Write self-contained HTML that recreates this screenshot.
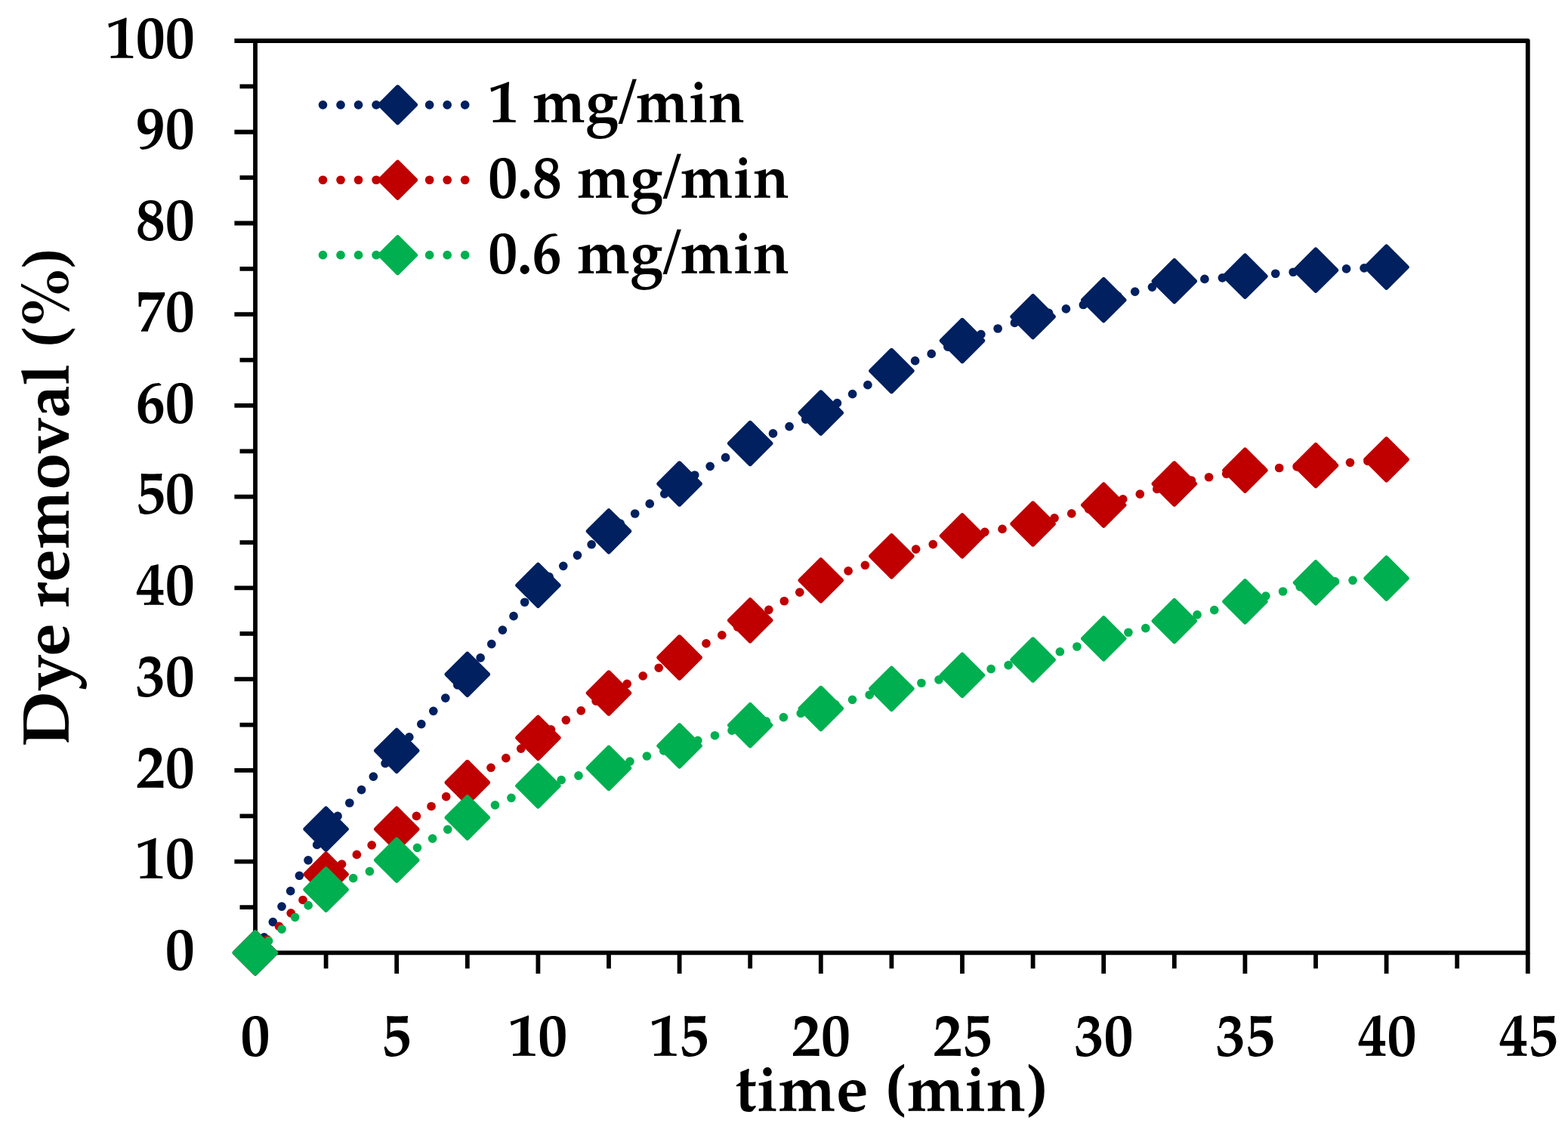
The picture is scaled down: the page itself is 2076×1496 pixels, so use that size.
<!DOCTYPE html><html><head><meta charset="utf-8"><title>Dye removal vs time</title><style>html,body{margin:0;padding:0;background:#fff;overflow:hidden;}svg{display:block;}text{font-family:'TeX Gyre Pagella','Liberation Serif',serif;font-weight:bold;fill:#000;}</style></head><body>
<svg width="2076" height="1496" viewBox="0 0 2076 1496">
<rect width="2076" height="1496" fill="#fff"/>
<path d="M310.40 1261.40H338.00M310.40 1140.66H338.00M310.40 1019.92H338.00M310.40 899.18H338.00M310.40 778.44H338.00M310.40 657.70H338.00M310.40 536.96H338.00M310.40 416.22H338.00M310.40 295.48H338.00M310.40 174.74H338.00M310.40 54.00H338.00M317.50 1201.03H338.00M317.50 1080.29H338.00M317.50 959.55H338.00M317.50 838.81H338.00M317.50 718.07H338.00M317.50 597.33H338.00M317.50 476.59H338.00M317.50 355.85H338.00M317.50 235.11H338.00M317.50 114.37H338.00M338.00 1261.40V1289.00M525.20 1261.40V1289.00M712.40 1261.40V1289.00M899.60 1261.40V1289.00M1086.80 1261.40V1289.00M1274.00 1261.40V1289.00M1461.20 1261.40V1289.00M1648.40 1261.40V1289.00M1835.60 1261.40V1289.00M2022.80 1261.40V1289.00M431.60 1261.40V1282.20M618.80 1261.40V1282.20M806.00 1261.40V1282.20M993.20 1261.40V1282.20M1180.40 1261.40V1282.20M1367.60 1261.40V1282.20M1554.80 1261.40V1282.20M1742.00 1261.40V1282.20M1929.20 1261.40V1282.20" stroke="#000" stroke-width="5.8" fill="none"/>
<rect x="338.0" y="54" width="1684.80" height="1207.40" fill="none" stroke="#000" stroke-width="5.8" stroke-linejoin="round"/>
<text x="218.74" y="1284.10" font-size="80.00" textLength="39.00" lengthAdjust="spacingAndGlyphs">0</text>
<text x="179.74" y="1163.36" font-size="80.00" textLength="78.00" lengthAdjust="spacingAndGlyphs">10</text>
<text x="179.74" y="1042.62" font-size="80.00" textLength="78.00" lengthAdjust="spacingAndGlyphs">20</text>
<text x="179.74" y="921.88" font-size="80.00" textLength="78.00" lengthAdjust="spacingAndGlyphs">30</text>
<text x="179.74" y="801.14" font-size="80.00" textLength="78.00" lengthAdjust="spacingAndGlyphs">40</text>
<text x="179.74" y="680.40" font-size="80.00" textLength="78.00" lengthAdjust="spacingAndGlyphs">50</text>
<text x="179.74" y="559.66" font-size="80.00" textLength="78.00" lengthAdjust="spacingAndGlyphs">60</text>
<text x="179.74" y="438.92" font-size="80.00" textLength="78.00" lengthAdjust="spacingAndGlyphs">70</text>
<text x="179.74" y="318.18" font-size="80.00" textLength="78.00" lengthAdjust="spacingAndGlyphs">80</text>
<text x="179.74" y="197.44" font-size="80.00" textLength="78.00" lengthAdjust="spacingAndGlyphs">90</text>
<text x="140.74" y="76.70" font-size="80.00" textLength="117.00" lengthAdjust="spacingAndGlyphs">100</text>
<text x="318.50" y="1398.30" font-size="80.00" textLength="39.00" lengthAdjust="spacingAndGlyphs">0</text>
<text x="505.18" y="1398.30" font-size="80.00" textLength="39.00" lengthAdjust="spacingAndGlyphs">5</text>
<text x="673.27" y="1398.30" font-size="80.00" textLength="78.00" lengthAdjust="spacingAndGlyphs">10</text>
<text x="860.34" y="1398.30" font-size="80.00" textLength="78.00" lengthAdjust="spacingAndGlyphs">15</text>
<text x="1048.06" y="1398.30" font-size="80.00" textLength="78.00" lengthAdjust="spacingAndGlyphs">20</text>
<text x="1235.13" y="1398.30" font-size="80.00" textLength="78.00" lengthAdjust="spacingAndGlyphs">25</text>
<text x="1422.59" y="1398.30" font-size="80.00" textLength="78.00" lengthAdjust="spacingAndGlyphs">30</text>
<text x="1609.66" y="1398.30" font-size="80.00" textLength="78.00" lengthAdjust="spacingAndGlyphs">35</text>
<text x="1797.38" y="1398.30" font-size="80.00" textLength="78.00" lengthAdjust="spacingAndGlyphs">40</text>
<text x="1984.45" y="1398.30" font-size="80.00" textLength="78.00" lengthAdjust="spacingAndGlyphs">45</text>
<path d="M338.00 1261.40L431.60 1097.60L525.20 993.80L618.80 892.80L712.40 774.90L806.00 703.30L899.60 640.50L993.20 587.00L1086.80 546.50L1180.40 491.00L1274.00 451.00L1367.60 419.20L1461.20 397.20L1554.80 372.20L1648.40 365.70L1742.00 357.70L1835.60 353.60" fill="none" stroke="#002060" stroke-width="11.7" stroke-linecap="round" stroke-linejoin="round" stroke-dasharray="0 23.525"/>
<path d="M338.00 1233.95L365.45 1261.40L338.00 1288.85L310.55 1261.40Z" fill="#002060" stroke="#002060" stroke-width="5.5" stroke-linejoin="round"/>
<path d="M431.60 1070.15L459.05 1097.60L431.60 1125.05L404.15 1097.60Z" fill="#002060" stroke="#002060" stroke-width="5.5" stroke-linejoin="round"/>
<path d="M525.20 966.35L552.65 993.80L525.20 1021.25L497.75 993.80Z" fill="#002060" stroke="#002060" stroke-width="5.5" stroke-linejoin="round"/>
<path d="M618.80 865.35L646.25 892.80L618.80 920.25L591.35 892.80Z" fill="#002060" stroke="#002060" stroke-width="5.5" stroke-linejoin="round"/>
<path d="M712.40 747.45L739.85 774.90L712.40 802.35L684.95 774.90Z" fill="#002060" stroke="#002060" stroke-width="5.5" stroke-linejoin="round"/>
<path d="M806.00 675.85L833.45 703.30L806.00 730.75L778.55 703.30Z" fill="#002060" stroke="#002060" stroke-width="5.5" stroke-linejoin="round"/>
<path d="M899.60 613.05L927.05 640.50L899.60 667.95L872.15 640.50Z" fill="#002060" stroke="#002060" stroke-width="5.5" stroke-linejoin="round"/>
<path d="M993.20 559.55L1020.65 587.00L993.20 614.45L965.75 587.00Z" fill="#002060" stroke="#002060" stroke-width="5.5" stroke-linejoin="round"/>
<path d="M1086.80 519.05L1114.25 546.50L1086.80 573.95L1059.35 546.50Z" fill="#002060" stroke="#002060" stroke-width="5.5" stroke-linejoin="round"/>
<path d="M1180.40 463.55L1207.85 491.00L1180.40 518.45L1152.95 491.00Z" fill="#002060" stroke="#002060" stroke-width="5.5" stroke-linejoin="round"/>
<path d="M1274.00 423.55L1301.45 451.00L1274.00 478.45L1246.55 451.00Z" fill="#002060" stroke="#002060" stroke-width="5.5" stroke-linejoin="round"/>
<path d="M1367.60 391.75L1395.05 419.20L1367.60 446.65L1340.15 419.20Z" fill="#002060" stroke="#002060" stroke-width="5.5" stroke-linejoin="round"/>
<path d="M1461.20 369.75L1488.65 397.20L1461.20 424.65L1433.75 397.20Z" fill="#002060" stroke="#002060" stroke-width="5.5" stroke-linejoin="round"/>
<path d="M1554.80 344.75L1582.25 372.20L1554.80 399.65L1527.35 372.20Z" fill="#002060" stroke="#002060" stroke-width="5.5" stroke-linejoin="round"/>
<path d="M1648.40 338.25L1675.85 365.70L1648.40 393.15L1620.95 365.70Z" fill="#002060" stroke="#002060" stroke-width="5.5" stroke-linejoin="round"/>
<path d="M1742.00 330.25L1769.45 357.70L1742.00 385.15L1714.55 357.70Z" fill="#002060" stroke="#002060" stroke-width="5.5" stroke-linejoin="round"/>
<path d="M1835.60 326.15L1863.05 353.60L1835.60 381.05L1808.15 353.60Z" fill="#002060" stroke="#002060" stroke-width="5.5" stroke-linejoin="round"/>
<path d="M338.00 1261.40L431.60 1157.50L525.20 1097.70L618.80 1036.00L712.40 976.80L806.00 917.50L899.60 870.50L993.20 821.30L1086.80 768.30L1180.40 736.30L1274.00 709.40L1367.60 693.50L1461.20 668.60L1554.80 640.50L1648.40 622.60L1742.00 616.20L1835.60 608.30" fill="none" stroke="#C00000" stroke-width="11.7" stroke-linecap="round" stroke-linejoin="round" stroke-dasharray="0 23.525"/>
<path d="M338.00 1233.95L365.45 1261.40L338.00 1288.85L310.55 1261.40Z" fill="#C00000" stroke="#C00000" stroke-width="5.5" stroke-linejoin="round"/>
<path d="M431.60 1130.05L459.05 1157.50L431.60 1184.95L404.15 1157.50Z" fill="#C00000" stroke="#C00000" stroke-width="5.5" stroke-linejoin="round"/>
<path d="M525.20 1070.25L552.65 1097.70L525.20 1125.15L497.75 1097.70Z" fill="#C00000" stroke="#C00000" stroke-width="5.5" stroke-linejoin="round"/>
<path d="M618.80 1008.55L646.25 1036.00L618.80 1063.45L591.35 1036.00Z" fill="#C00000" stroke="#C00000" stroke-width="5.5" stroke-linejoin="round"/>
<path d="M712.40 949.35L739.85 976.80L712.40 1004.25L684.95 976.80Z" fill="#C00000" stroke="#C00000" stroke-width="5.5" stroke-linejoin="round"/>
<path d="M806.00 890.05L833.45 917.50L806.00 944.95L778.55 917.50Z" fill="#C00000" stroke="#C00000" stroke-width="5.5" stroke-linejoin="round"/>
<path d="M899.60 843.05L927.05 870.50L899.60 897.95L872.15 870.50Z" fill="#C00000" stroke="#C00000" stroke-width="5.5" stroke-linejoin="round"/>
<path d="M993.20 793.85L1020.65 821.30L993.20 848.75L965.75 821.30Z" fill="#C00000" stroke="#C00000" stroke-width="5.5" stroke-linejoin="round"/>
<path d="M1086.80 740.85L1114.25 768.30L1086.80 795.75L1059.35 768.30Z" fill="#C00000" stroke="#C00000" stroke-width="5.5" stroke-linejoin="round"/>
<path d="M1180.40 708.85L1207.85 736.30L1180.40 763.75L1152.95 736.30Z" fill="#C00000" stroke="#C00000" stroke-width="5.5" stroke-linejoin="round"/>
<path d="M1274.00 681.95L1301.45 709.40L1274.00 736.85L1246.55 709.40Z" fill="#C00000" stroke="#C00000" stroke-width="5.5" stroke-linejoin="round"/>
<path d="M1367.60 666.05L1395.05 693.50L1367.60 720.95L1340.15 693.50Z" fill="#C00000" stroke="#C00000" stroke-width="5.5" stroke-linejoin="round"/>
<path d="M1461.20 641.15L1488.65 668.60L1461.20 696.05L1433.75 668.60Z" fill="#C00000" stroke="#C00000" stroke-width="5.5" stroke-linejoin="round"/>
<path d="M1554.80 613.05L1582.25 640.50L1554.80 667.95L1527.35 640.50Z" fill="#C00000" stroke="#C00000" stroke-width="5.5" stroke-linejoin="round"/>
<path d="M1648.40 595.15L1675.85 622.60L1648.40 650.05L1620.95 622.60Z" fill="#C00000" stroke="#C00000" stroke-width="5.5" stroke-linejoin="round"/>
<path d="M1742.00 588.75L1769.45 616.20L1742.00 643.65L1714.55 616.20Z" fill="#C00000" stroke="#C00000" stroke-width="5.5" stroke-linejoin="round"/>
<path d="M1835.60 580.85L1863.05 608.30L1835.60 635.75L1808.15 608.30Z" fill="#C00000" stroke="#C00000" stroke-width="5.5" stroke-linejoin="round"/>
<path d="M338.00 1261.40L431.60 1177.70L525.20 1138.70L618.80 1082.40L712.40 1040.40L806.00 1016.90L899.60 987.40L993.20 960.10L1086.80 938.00L1180.40 911.80L1274.00 893.90L1367.60 873.50L1461.20 845.40L1554.80 822.10L1648.40 796.40L1742.00 771.40L1835.60 765.60" fill="none" stroke="#00B050" stroke-width="11.7" stroke-linecap="round" stroke-linejoin="round" stroke-dasharray="0 23.525"/>
<path d="M338.00 1233.95L365.45 1261.40L338.00 1288.85L310.55 1261.40Z" fill="#00B050" stroke="#00B050" stroke-width="5.5" stroke-linejoin="round"/>
<path d="M431.60 1150.25L459.05 1177.70L431.60 1205.15L404.15 1177.70Z" fill="#00B050" stroke="#00B050" stroke-width="5.5" stroke-linejoin="round"/>
<path d="M525.20 1111.25L552.65 1138.70L525.20 1166.15L497.75 1138.70Z" fill="#00B050" stroke="#00B050" stroke-width="5.5" stroke-linejoin="round"/>
<path d="M618.80 1054.95L646.25 1082.40L618.80 1109.85L591.35 1082.40Z" fill="#00B050" stroke="#00B050" stroke-width="5.5" stroke-linejoin="round"/>
<path d="M712.40 1012.95L739.85 1040.40L712.40 1067.85L684.95 1040.40Z" fill="#00B050" stroke="#00B050" stroke-width="5.5" stroke-linejoin="round"/>
<path d="M806.00 989.45L833.45 1016.90L806.00 1044.35L778.55 1016.90Z" fill="#00B050" stroke="#00B050" stroke-width="5.5" stroke-linejoin="round"/>
<path d="M899.60 959.95L927.05 987.40L899.60 1014.85L872.15 987.40Z" fill="#00B050" stroke="#00B050" stroke-width="5.5" stroke-linejoin="round"/>
<path d="M993.20 932.65L1020.65 960.10L993.20 987.55L965.75 960.10Z" fill="#00B050" stroke="#00B050" stroke-width="5.5" stroke-linejoin="round"/>
<path d="M1086.80 910.55L1114.25 938.00L1086.80 965.45L1059.35 938.00Z" fill="#00B050" stroke="#00B050" stroke-width="5.5" stroke-linejoin="round"/>
<path d="M1180.40 884.35L1207.85 911.80L1180.40 939.25L1152.95 911.80Z" fill="#00B050" stroke="#00B050" stroke-width="5.5" stroke-linejoin="round"/>
<path d="M1274.00 866.45L1301.45 893.90L1274.00 921.35L1246.55 893.90Z" fill="#00B050" stroke="#00B050" stroke-width="5.5" stroke-linejoin="round"/>
<path d="M1367.60 846.05L1395.05 873.50L1367.60 900.95L1340.15 873.50Z" fill="#00B050" stroke="#00B050" stroke-width="5.5" stroke-linejoin="round"/>
<path d="M1461.20 817.95L1488.65 845.40L1461.20 872.85L1433.75 845.40Z" fill="#00B050" stroke="#00B050" stroke-width="5.5" stroke-linejoin="round"/>
<path d="M1554.80 794.65L1582.25 822.10L1554.80 849.55L1527.35 822.10Z" fill="#00B050" stroke="#00B050" stroke-width="5.5" stroke-linejoin="round"/>
<path d="M1648.40 768.95L1675.85 796.40L1648.40 823.85L1620.95 796.40Z" fill="#00B050" stroke="#00B050" stroke-width="5.5" stroke-linejoin="round"/>
<path d="M1742.00 743.95L1769.45 771.40L1742.00 798.85L1714.55 771.40Z" fill="#00B050" stroke="#00B050" stroke-width="5.5" stroke-linejoin="round"/>
<path d="M1835.60 738.15L1863.05 765.60L1835.60 793.05L1808.15 765.60Z" fill="#00B050" stroke="#00B050" stroke-width="5.5" stroke-linejoin="round"/>
<path d="M427.5 138.8H616.2" stroke="#002060" stroke-width="11.7" stroke-linecap="round" stroke-dasharray="0 23.525" fill="none"/>
<path d="M526.50 115.05L550.25 138.80L526.50 162.55L502.75 138.80Z" fill="#002060" stroke="#002060" stroke-width="5.5" stroke-linejoin="round"/>
<text x="646.86" y="162.25" font-size="80.00" textLength="39.57" lengthAdjust="spacingAndGlyphs">1</text>
<text x="704.96" y="162.25" font-size="80.00" textLength="114.19" lengthAdjust="spacingAndGlyphs">mg</text>
<text x="813.05" y="152.74" font-size="74.75" textLength="35.48" lengthAdjust="spacingAndGlyphs">/</text>
<text x="841.87" y="162.25" font-size="80.00" textLength="144.15" lengthAdjust="spacingAndGlyphs">min</text>
<path d="M427.5 238.25H616.2" stroke="#C00000" stroke-width="11.7" stroke-linecap="round" stroke-dasharray="0 23.525" fill="none"/>
<path d="M526.50 214.50L550.25 238.25L526.50 262.00L502.75 238.25Z" fill="#C00000" stroke="#C00000" stroke-width="5.5" stroke-linejoin="round"/>
<text x="646.16" y="261.50" font-size="80.00" textLength="97.65" lengthAdjust="spacingAndGlyphs">0.8</text>
<text x="763.96" y="261.50" font-size="80.00" textLength="114.19" lengthAdjust="spacingAndGlyphs">mg</text>
<text x="872.05" y="251.99" font-size="74.75" textLength="35.48" lengthAdjust="spacingAndGlyphs">/</text>
<text x="900.87" y="261.50" font-size="80.00" textLength="144.15" lengthAdjust="spacingAndGlyphs">min</text>
<path d="M427.5 337.7H616.2" stroke="#00B050" stroke-width="11.7" stroke-linecap="round" stroke-dasharray="0 23.525" fill="none"/>
<path d="M526.50 313.95L550.25 337.70L526.50 361.45L502.75 337.70Z" fill="#00B050" stroke="#00B050" stroke-width="5.5" stroke-linejoin="round"/>
<text x="646.16" y="361.60" font-size="80.00" textLength="97.37" lengthAdjust="spacingAndGlyphs">0.6</text>
<text x="763.96" y="361.60" font-size="80.00" textLength="114.19" lengthAdjust="spacingAndGlyphs">mg</text>
<text x="872.05" y="352.09" font-size="74.75" textLength="35.48" lengthAdjust="spacingAndGlyphs">/</text>
<text x="900.87" y="361.60" font-size="80.00" textLength="144.15" lengthAdjust="spacingAndGlyphs">min</text>
<text x="973.08" y="1471.10" font-size="88.00" textLength="176.72" lengthAdjust="spacingAndGlyphs">time</text>
<text x="1173.13" y="1462.89" font-size="78.31" textLength="26.64" lengthAdjust="spacingAndGlyphs" style="font-family:'Liberation Serif',serif">(</text>
<text x="1200.69" y="1471.10" font-size="88.00" textLength="157.69" lengthAdjust="spacingAndGlyphs">min</text>
<text x="1359.27" y="1462.89" font-size="78.31" textLength="27.03" lengthAdjust="spacingAndGlyphs" style="font-family:'Liberation Serif',serif">)</text>
<g transform="translate(91.1 985.8) rotate(-90)"><text x="-2.94" y="0.00" font-size="88.00" textLength="163.74" lengthAdjust="spacingAndGlyphs">Dye</text><text x="180.66" y="0.00" font-size="88.00" textLength="324.29" lengthAdjust="spacingAndGlyphs">removal</text><text x="526.65" y="-7.72" font-size="78.86" textLength="26.51" lengthAdjust="spacingAndGlyphs" style="font-family:'Liberation Serif',serif">(</text><text x="552.08" y="0.00" font-size="88.00" textLength="80.24" lengthAdjust="spacingAndGlyphs">%</text><text x="630.68" y="-7.72" font-size="78.86" textLength="25.75" lengthAdjust="spacingAndGlyphs" style="font-family:'Liberation Serif',serif">)</text></g>
</svg></body></html>
